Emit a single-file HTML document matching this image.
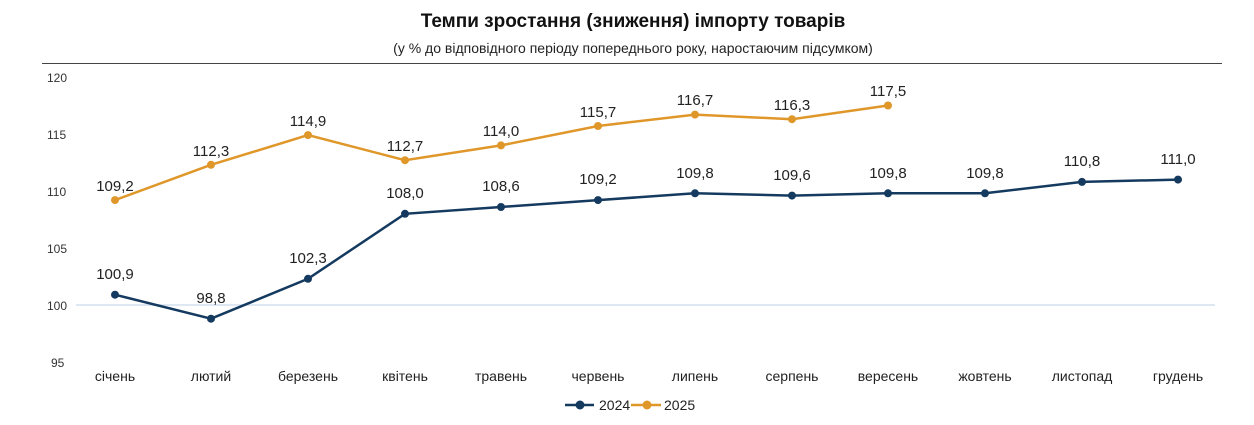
<!DOCTYPE html><html><head><meta charset="utf-8"><style>body{margin:0;background:#fff}svg{display:block;font-family:"Liberation Sans",sans-serif}</style></head><body>
<svg width="1254" height="425" viewBox="0 0 1254 425">
<text x="633" y="27" text-anchor="middle" font-size="19" font-weight="bold" fill="#111">Темпи зростання (зниження) імпорту товарів</text>
<text x="633" y="53" text-anchor="middle" font-size="14" fill="#222">(у % до відповідного періоду попереднього року, наростаючим підсумком)</text>
<line x1="42" y1="63.5" x2="1222" y2="63.5" stroke="#444" stroke-width="1"/>
<g font-size="12" fill="#333" text-anchor="start">
<text x="47" y="82">120</text><text x="47" y="139">115</text><text x="47" y="196">110</text><text x="47" y="253">105</text><text x="47" y="310">100</text><text x="51" y="367">95</text></g>
<line x1="76" y1="305" x2="1215" y2="305" stroke="#dde8f2" stroke-width="2"/>
<g font-size="14" fill="#222" text-anchor="middle">
<text x="115" y="381">січень</text><text x="211" y="381">лютий</text><text x="308" y="381">березень</text><text x="405" y="381">квітень</text><text x="501" y="381">травень</text><text x="598" y="381">червень</text><text x="695" y="381">липень</text><text x="792" y="381">серпень</text><text x="888" y="381">вересень</text><text x="985" y="381">жовтень</text><text x="1082" y="381">листопад</text><text x="1178" y="381">грудень</text></g>
<polyline fill="none" stroke="#153a5f" stroke-width="2.5" points="115,294.7 211,318.7 308,278.8 405,213.8 501,207 598,200.1 695,193.3 792,195.6 888,193.3 985,193.3 1082,181.9 1178,179.6"/>
<polyline fill="none" stroke="#e0972a" stroke-width="2.5" points="115,200.1 211,164.8 308,135.1 405,160.2 501,145.4 598,126 695,114.6 792,119.2 888,105.5"/>
<g fill="#153a5f"><circle cx="115" cy="294.7" r="4"/><circle cx="211" cy="318.7" r="4"/><circle cx="308" cy="278.8" r="4"/><circle cx="405" cy="213.8" r="4"/><circle cx="501" cy="207" r="4"/><circle cx="598" cy="200.1" r="4"/><circle cx="695" cy="193.3" r="4"/><circle cx="792" cy="195.6" r="4"/><circle cx="888" cy="193.3" r="4"/><circle cx="985" cy="193.3" r="4"/><circle cx="1082" cy="181.9" r="4"/><circle cx="1178" cy="179.6" r="4"/></g>
<g fill="#e0972a"><circle cx="115" cy="200.1" r="4"/><circle cx="211" cy="164.8" r="4"/><circle cx="308" cy="135.1" r="4"/><circle cx="405" cy="160.2" r="4"/><circle cx="501" cy="145.4" r="4"/><circle cx="598" cy="126" r="4"/><circle cx="695" cy="114.6" r="4"/><circle cx="792" cy="119.2" r="4"/><circle cx="888" cy="105.5" r="4"/></g>
<g font-size="15" fill="#222" text-anchor="middle">
<text x="115" y="279">100,9</text><text x="211" y="303">98,8</text><text x="308" y="263">102,3</text><text x="405" y="198">108,0</text><text x="501" y="191">108,6</text><text x="598" y="184">109,2</text><text x="695" y="178">109,8</text><text x="792" y="180">109,6</text><text x="888" y="178">109,8</text><text x="985" y="178">109,8</text><text x="1082" y="166">110,8</text><text x="1178" y="164">111,0</text>
<text x="115" y="191">109,2</text><text x="211" y="156">112,3</text><text x="308" y="126">114,9</text><text x="405" y="151">112,7</text><text x="501" y="136">114,0</text><text x="598" y="117">115,7</text><text x="695" y="105">116,7</text><text x="792" y="110">116,3</text><text x="888" y="96">117,5</text></g>
<line x1="565" y1="405" x2="594" y2="405" stroke="#153a5f" stroke-width="2.5"/><circle cx="580" cy="405" r="4.5" fill="#153a5f"/>
<text x="599" y="410" font-size="14" fill="#222">2024</text>
<line x1="631" y1="405" x2="661" y2="405" stroke="#e0972a" stroke-width="2.5"/><circle cx="647" cy="405" r="4.5" fill="#e0972a"/>
<text x="664" y="410" font-size="14" fill="#222">2025</text>
</svg></body></html>
